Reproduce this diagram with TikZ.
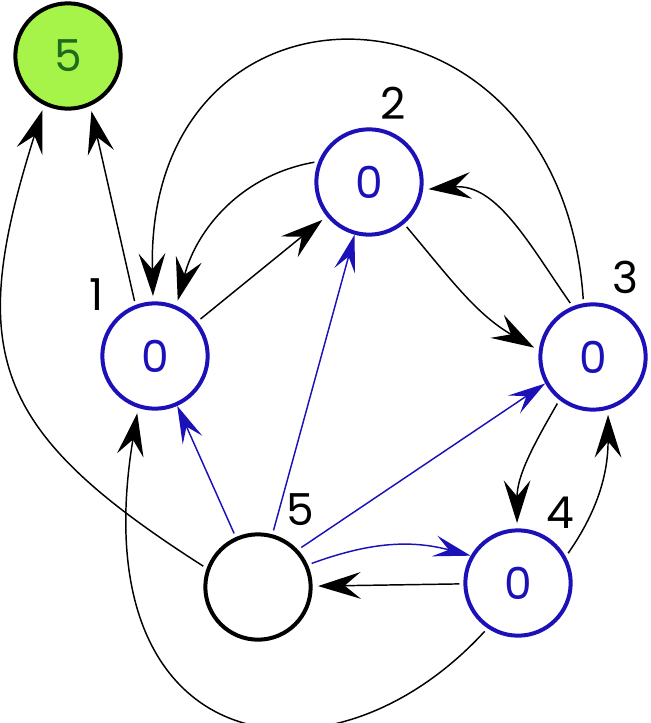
\documentclass[tikz,border=0pt]{standalone}
\usepackage{fontspec}
\setmainfont{Poppins}
\usetikzlibrary{arrows.meta}
\definecolor{nodeblue}{RGB}{28,16,184}
\definecolor{wingreen}{RGB}{166,243,74}
\definecolor{wintext}{RGB}{30,107,30}
\tikzset{
  vtx/.style={circle,draw=nodeblue,line width=3pt,minimum size=79pt,inner sep=0pt,
    text=nodeblue,font=\fontsize{33}{36}\selectfont},
  goal/.style={vtx,draw=black,fill=wingreen,text=wintext},
  root/.style={vtx,draw=black},
  lbl/.style={inner sep=0pt,font=\fontsize{33}{36}\selectfont},
  trans/.style={line width=1.1pt,shorten >=4pt,shorten <=3pt,
    -{Stealth[length=32pt,width=20pt,inset=12pt]}},
  btrans/.style={line width=1.1pt,nodeblue,shorten <=3pt,
    -{Stealth[length=28pt,width=16pt,inset=11pt]}}
}
\begin{document}
\begin{tikzpicture}[x=0.75pt,y=-0.75pt]
  \useasboundingbox (0,0) rectangle (650,723);
  \node[goal] (g) at (68,56) {5};
  \node[vtx] (n1) at (155,356) {0};
  \node[vtx] (n2) at (369,182) {0};
  \node[vtx] (n3) at (593,357) {0};
  \node[vtx] (n4) at (518,583) {0};
  \node[root] (n5) at (258,587) {};
  \node[lbl] (l1) at (97,295) {1};
  \node[lbl] (l2) at (393,103) {2};
  \node[lbl] (l3) at (625,277) {3};
  \node[lbl] (l4) at (560,513) {4};
  \node[lbl] (l5) at (300,510) {5};

  \draw[trans] (n1.111) -- (g.-66);
  \draw[trans] (n5.160) .. controls (-10,430) and (-34,352) .. (g.-116);
  \draw[trans] (n1) -- (n2);
  \draw[trans] (n2.158) to[out=190,in=75] (n1.67);
  \draw[trans] (n3.100) .. controls (560,-40) and (145,-45) .. (n1.92);
  \draw[trans] (n2.-50) to[out=-50,in=150] (n3.173);
  \draw[trans] (n3.112) to[out=125,in=5] (n2.-8);
  \draw[trans] (n3.-128) to[out=-120,in=90] (n4.91);
  \draw[trans] (n4.29) to[out=55,in=-90] (n3.-74);
  \draw[trans] (n4) -- (n5);
  \draw[trans] (n4.-124) .. controls (330,800) and (80,760) .. (n1.-108);

  \draw[btrans] (n5) -- (n1);
  \draw[btrans] (n5) -- (n2);
  \draw[btrans] (n5.43) -- (n3.209);
  \draw[btrans] (n5.24) to[out=20,in=165] (n4.150);
\end{tikzpicture}
\end{document}
